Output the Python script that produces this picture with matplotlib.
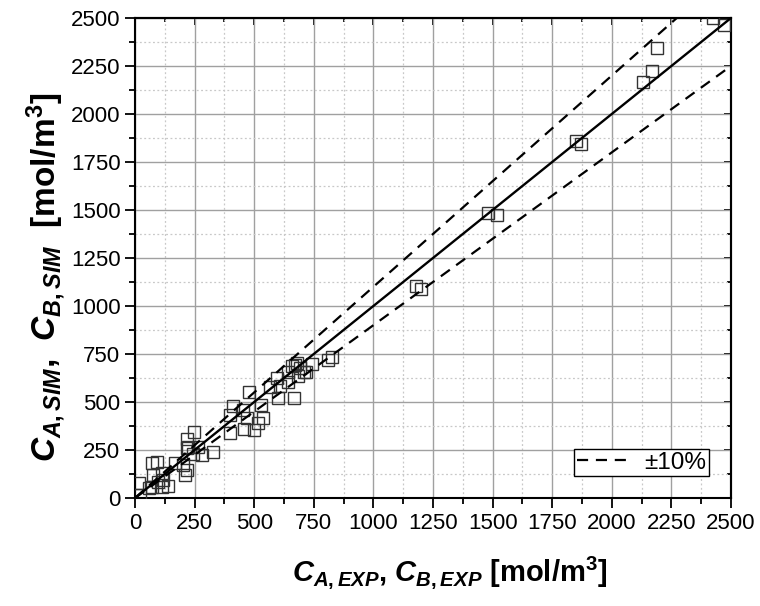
import matplotlib

matplotlib.use("Agg")
import matplotlib.pyplot as plt
import numpy as np
from matplotlib.ticker import MultipleLocator

# experimental vs simulated concentrations [mol/m3]
c_exp = [
    1479, 1518, 1851, 1871, 2130, 2170, 2190, 2471, 2425, 1179, 1200,
    828, 810, 741, 678, 660, 692, 709, 685, 643, 668, 643, 608, 594, 566,
    601, 528, 479, 454, 412, 398, 468, 538, 517, 458, 499, 398, 717, 671,
    249, 219, 219, 266, 280, 245, 328, 200, 210, 168, 217, 224,
    70, 91, 77, 112, 137, 98, 59, 18, 21, 119, 70, 112,
]
c_sim = [
    1486, 1476, 1858, 1844, 2165, 2224, 2342, 2463, 2500, 1104, 1089,
    733, 719, 696, 701, 689, 675, 655, 635, 658, 519, 606, 583, 623, 577,
    519, 484, 554, 458, 479, 432, 415, 415, 392, 358, 354, 340, 658, 693,
    345, 306, 259, 267, 224, 229, 238, 172, 120, 181, 146, 267,
    181, 189, 120, 129, 62, 85, 50, 80, 16, 94, 56, 59,
]

parity_line = [0, 2500]
tolerance = 0.10
legend_label = "±10%"
x_label = r"$C_{A,EXP}$, $C_{B,EXP}$ [mol/m$^{\mathregular{3}}$]"
y_label = r"$C_{A,SIM}$,  $C_{B,SIM}$  [mol/m$^{\mathregular{3}}$]"


def main():
    plt.rcParams["font.family"] = ["Liberation Sans", "DejaVu Sans"]
    plt.rcParams["mathtext.fontset"] = "custom"
    plt.rcParams["mathtext.it"] = "Liberation Sans:bold:italic"
    plt.rcParams["mathtext.rm"] = "Liberation Sans:bold"
    plt.rcParams["mathtext.bf"] = "Liberation Sans:bold"

    fig = plt.figure(figsize=(7.6, 6.06), dpi=100)
    ax = fig.add_axes([0.1776, 0.1782, 0.7842, 0.7921])

    ax.plot(
        c_exp, c_sim, linestyle="none", marker="s", markersize=8,
        markerfacecolor="none", markeredgecolor="#333333", markeredgewidth=1.0,
        zorder=3,
    )
    line = np.array(parity_line)
    ax.plot(line, line, color="black", linewidth=1.7, zorder=4)
    ax.plot(line, line * (1 + tolerance), color="black", linewidth=1.6,
            dashes=(5, 3.5), label=legend_label, zorder=4)
    ax.plot(line, line * (1 - tolerance), color="black", linewidth=1.6,
            dashes=(5, 3.5), zorder=4)

    ax.set_xlim(0, 2500)
    ax.set_ylim(0, 2500)
    for axis in (ax.xaxis, ax.yaxis):
        axis.set_major_locator(MultipleLocator(250))
        axis.set_minor_locator(MultipleLocator(125))

    ax.grid(which="major", color="#a0a0a0", linewidth=1.0, zorder=0)
    ax.grid(which="minor", color="#c8c8c8", linewidth=0.9, linestyle=(0, (1.5, 2)), zorder=0)
    ax.set_axisbelow(True)

    ax.tick_params(which="both", direction="out", labelsize=16, width=1.3,
                   top=False, right=False)
    ax.tick_params(which="major", length=7)
    ax.tick_params(which="minor", length=4)
    sec_x = ax.secondary_xaxis("top")
    sec_y = ax.secondary_yaxis("right")
    for sec in (sec_x, sec_y):
        sec.tick_params(which="both", direction="in", labelsize=0, width=1.3)
        sec.tick_params(which="major", length=5)
        sec.tick_params(which="minor", length=3)
    sec_x.xaxis.set_major_locator(MultipleLocator(250))
    sec_x.xaxis.set_minor_locator(MultipleLocator(125))
    sec_y.yaxis.set_major_locator(MultipleLocator(250))
    sec_y.yaxis.set_minor_locator(MultipleLocator(125))
    sec_x.set_xticklabels([])
    sec_y.set_yticklabels([])
    for spine in list(ax.spines.values()) + [sec_x.spines["top"], sec_y.spines["right"]]:
        spine.set_linewidth(1.5)

    ax.set_xlabel(x_label, fontsize=21, fontweight="bold")
    ax.set_ylabel(y_label, fontsize=24, fontweight="bold")
    ax.xaxis.set_label_coords(0.528, -0.118)
    ax.yaxis.set_label_coords(-0.112, 0.46)

    leg = ax.legend(loc="lower right", fontsize=17.5, frameon=True, fancybox=False,
                    framealpha=1, edgecolor="black", handlelength=2.2,
                    handletextpad=0.6, borderaxespad=0.9, borderpad=0.1)
    leg.get_frame().set_linewidth(1.0)

    fig.savefig("out.png", dpi=100)
    plt.close(fig)


if __name__ == "__main__":
    main()
